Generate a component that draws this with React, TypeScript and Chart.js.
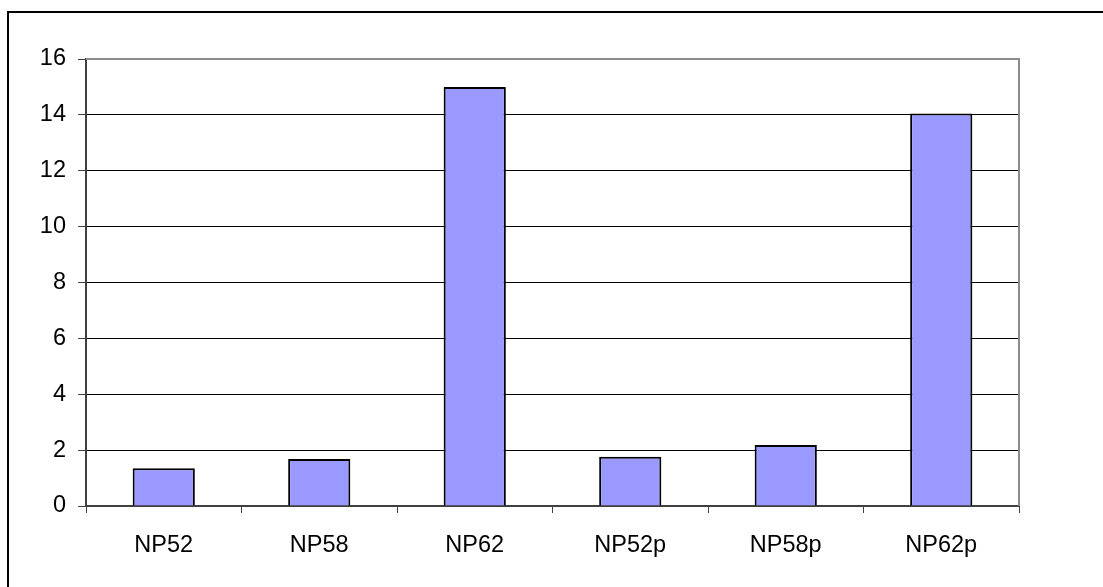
import React, { useEffect, useRef } from "react";
import { Chart, registerables } from "chart.js";

Chart.register(...registerables);

const categories = ["NP52", "NP58", "NP62", "NP52p", "NP58p", "NP62p"];
const values = [1.35, 1.68, 15.0, 1.76, 2.18, 14.05];
const yTicks = [0, 2, 4, 6, 8, 10, 12, 14, 16];

const FONT = "'Liberation Sans', Arial, sans-serif";

const framePlugin = {
  id: "framePlugin",
  beforeDraw(chart: any) {
    const { ctx, width, height } = chart;
    ctx.save();
    ctx.fillStyle = "#ffffff";
    ctx.fillRect(0, 0, width, height);
    ctx.restore();
  },
  afterDraw(chart: any) {
    const { ctx, chartArea, width, height } = chart;
    ctx.save();
    // plot area top/right border (gray)
    ctx.strokeStyle = "#8c8c8c";
    ctx.lineWidth = 2;
    ctx.beginPath();
    ctx.moveTo(chartArea.left, chartArea.top);
    ctx.lineTo(chartArea.right, chartArea.top);
    ctx.lineTo(chartArea.right, chartArea.bottom);
    ctx.stroke();
    // outer frame (left and top)
    ctx.strokeStyle = "#000000";
    ctx.lineWidth = 2;
    ctx.beginPath();
    ctx.moveTo(8, height);
    ctx.lineTo(8, 12);
    ctx.lineTo(width, 12);
    ctx.stroke();
    ctx.restore();
  },
};

export default function App() {
  const ref = useRef<HTMLCanvasElement | null>(null);

  useEffect(() => {
    document.body.style.margin = "0";
    const canvas = ref.current;
    if (!canvas) return;
    const chart = new Chart(canvas, {
      type: "bar",
      data: {
        labels: categories,
        datasets: [
          {
            data: values,
            backgroundColor: "#9999ff",
            borderColor: "#000000",
            borderWidth: 2,
            barPercentage: 0.4,
            categoryPercentage: 1,
          },
        ],
      },
      options: {
        responsive: false,
        animation: false,
        devicePixelRatio: 1,
        layout: { padding: { top: 59, right: 84, left: 0, bottom: 0 } },
        plugins: {
          legend: { display: false },
          tooltip: { enabled: false },
        },
        scales: {
          x: {
            afterFit(s: any) {
              s.height = 81;
            },
            grid: {
              offset: true,
              drawOnChartArea: false,
              tickLength: 7,
              color: "#404040",
              lineWidth: 1,
            },
            border: { color: "#404040", width: 2 },
            ticks: {
              color: "#000000",
              padding: 18,
              font: { family: FONT, size: 23.5 },
              maxRotation: 0,
            },
          },
          y: {
            min: 0,
            max: 16,
            afterFit(s: any) {
              s.width = 86;
            },
            afterBuildTicks(s: any) {
              s.ticks = yTicks.map((v) => ({ value: v }));
            },
            grid: {
              color: "#000000",
              lineWidth: 1,
              tickLength: 8,
              tickColor: "#404040",
            },
            border: { color: "#404040", width: 2 },
            ticks: {
              color: "#000000",
              padding: 12,
              font: { family: FONT, size: 23.5 },
            },
          },
        },
      },
      plugins: [framePlugin],
    });
    return () => chart.destroy();
  }, []);

  return (
    <div style={{ position: "absolute", left: 0, top: 0, width: 1103, height: 587 }}>
      <canvas ref={ref} width={1103} height={587} style={{ width: 1103, height: 587, display: "block" }} />
    </div>
  );
}
